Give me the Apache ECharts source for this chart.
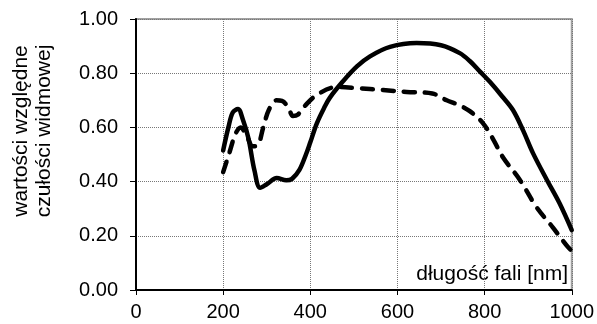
<!DOCTYPE html>
<html>
<head>
<meta charset="utf-8">
<script src="https://cdn.jsdelivr.net/npm/echarts@6/dist/echarts.min.js"></script>
<style>
  html, body { margin: 0; padding: 0; background: #fff; }
  #chart { width: 597px; height: 324px; }
</style>
</head>
<body>
<div id="chart"></div>
<script>
// wavelength [nm] and relative spectral sensitivity
const solidX = [200, 212, 222, 234, 245, 258, 272, 285, 300, 323, 345, 358, 375, 390, 400, 415, 433, 445, 475, 507, 537, 583, 644, 700, 743, 766, 790, 812, 840, 865, 888, 911, 943, 972, 1000];
const solidY = [0.515, 0.60, 0.655, 0.668, 0.63, 0.56, 0.44, 0.377, 0.39, 0.413, 0.405, 0.41, 0.443, 0.50, 0.545, 0.615, 0.676, 0.71, 0.77, 0.825, 0.862, 0.897, 0.911, 0.903, 0.874, 0.845, 0.805, 0.768, 0.715, 0.664, 0.59, 0.505, 0.406, 0.32, 0.221];

const dashedX = [200, 215, 228, 240, 255, 268, 280, 292, 305, 322, 335, 350, 360, 372, 385, 415, 461, 507, 567, 621, 680, 713, 740, 766, 796, 820, 842, 881, 919, 956, 991, 1000];
const dashedY = [0.435, 0.51, 0.575, 0.60, 0.565, 0.53, 0.535, 0.60, 0.665, 0.70, 0.698, 0.672, 0.642, 0.648, 0.675, 0.72, 0.749, 0.745, 0.738, 0.731, 0.725, 0.70, 0.683, 0.66, 0.616, 0.555, 0.49, 0.406, 0.306, 0.232, 0.159, 0.145];

const yTitle = ['wartości względne', 'czułości widmowej'];
const xTitle = 'długość fali [nm]';

const font = 'Liberation Sans, Arial, sans-serif';
const pairs = (xs, ys) => xs.map((x, i) => [x, ys[i]]);

const chart = echarts.init(document.getElementById('chart'));

chart.setOption({
  backgroundColor: '#fff',
  animation: false,
  grid: {
    left: 136, right: 25, top: 19, bottom: 34,
    show: true,
    borderColor: '#a0a0a0',
    borderWidth: 2
  },
  xAxis: {
    type: 'value',
    min: 0, max: 1000, interval: 200,
    axisLine: { lineStyle: { color: '#000', width: 2 } },
    axisTick: { show: true, length: 5, lineStyle: { color: '#000', width: 1 } },
    axisLabel: {
      color: '#000', fontSize: 20, fontFamily: font, margin: 12,
      formatter: v => String(v)
    },
    splitLine: { show: true, lineStyle: { color: '#777', type: 'dotted', width: 1 } }
  },
  yAxis: {
    type: 'value',
    min: 0, max: 1, interval: 0.2,
    axisLine: { show: true, lineStyle: { color: '#000', width: 2 } },
    axisTick: { show: true, length: 6, lineStyle: { color: '#000', width: 1 } },
    axisLabel: {
      color: '#000', fontSize: 20, fontFamily: font, margin: 18,
      formatter: v => v.toFixed(2)
    },
    splitLine: { show: true, lineStyle: { color: '#777', type: 'dotted', width: 1 } }
  },
  graphic: [
    {
      type: 'text',
      x: 33, y: 131,
      rotation: Math.PI / 2,
      style: {
        text: yTitle.join('\n'),
        fontSize: 21,
        fontFamily: font,
        fill: '#000',
        align: 'center',
        verticalAlign: 'middle',
        lineHeight: 23
      }
    },
    {
      type: 'text',
      x: 568, y: 274,
      style: {
        text: xTitle,
        fontSize: 21,
        fontFamily: font,
        fill: '#000',
        align: 'right',
        verticalAlign: 'middle'
      }
    }
  ],
  series: [
    {
      type: 'line',
      data: pairs(solidX, solidY),
      smooth: 0.35,
      showSymbol: false,
      lineStyle: { color: '#000', width: 4.5, cap: 'round', join: 'round' }
    },
    {
      type: 'line',
      data: pairs(dashedX, dashedY),
      smooth: 0.35,
      showSymbol: false,
      lineStyle: { color: '#000', width: 4.5, type: [11, 10], cap: 'round', join: 'round' }
    }
  ]
});
</script>
</body>
</html>
